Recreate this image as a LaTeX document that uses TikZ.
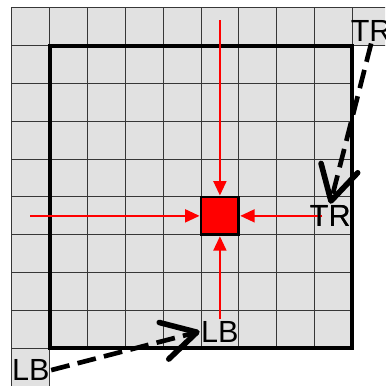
\documentclass[tikz,border=0pt]{standalone}
\usepackage{fontspec}
\setmainfont{Liberation Sans}
\usepackage{tikz}
\usetikzlibrary{arrows.meta, positioning}
\definecolor{cellgray}{RGB}{225,225,225}
\definecolor{gridline}{RGB}{55,55,55}

\begin{document}
\begin{tikzpicture}[
  x=1cm, y=1cm,
  cell/.style={fill=cellgray, draw=gridline, line width=0.75pt},
  window/.style={draw=black, line width=2.8pt},
  target/.style={rectangle, draw=black, fill=red, line width=2.2pt,
                 minimum size=1cm, inner sep=0pt},
  lbl/.style={font=\fontsize{23}{23}\selectfont, inner sep=1pt},
  redarrow/.style={-{Triangle[length=3.8mm, width=3.4mm]}, line width=1.6pt, red},
  movearrow/.style={-{Straight Barb[length=9mm, width=10mm, line width=4.2pt, round]},
                    line width=3.5pt, dash pattern=on 0.5cm off 0.22cm},
]
\useasboundingbox (-0.317,0) rectangle (9.87,10.21);
\clip (-0.317,0) rectangle (9.87,10.21);

% Grid
\foreach \i in {0,...,8}
  \foreach \j in {1,...,9}
    \draw[cell] (\i,\j) rectangle ++(1,1);
\draw[cell] (9,9) rectangle ++(1,1);
\draw[cell] (0,0) rectangle ++(1,1);

% Window
\draw[window] (1,1) rectangle (9,9);

% Target and labels
\node[target] (goal) at (5.5,4.5) {};
\node[lbl, right=1.8cm of goal] (trin) {TR};
\node[lbl, below=2.2cm of goal] (lbin) {LB};
\node[lbl] (trout) at (9.5,9.38) {TR};
\node[lbl] (lbout) at (0.5,0.42) {LB};
\coordinate (topin) at (5.5,9.68);
\coordinate (leftin) at (0.48,4.5);

% Red arrows
\draw[redarrow] (topin) -- (goal);
\draw[redarrow] (leftin) -- (goal);
\draw[redarrow] ([xshift=-6pt]trin.center) -- (goal);
\draw[redarrow] (lbin) -- (goal);
\node[target] at (goal) {};
\node[lbl] at (trin) {TR};

% Moves
\draw[movearrow] (trout.south) -- (trin.north);
\draw[movearrow] (lbout.east) -- (lbin.west);

\end{tikzpicture}
\end{document}
